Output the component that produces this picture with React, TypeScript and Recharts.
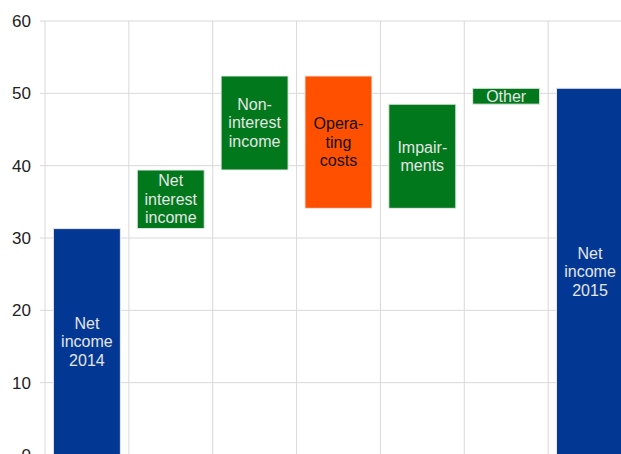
import { BarChart, Bar, XAxis, YAxis, CartesianGrid, Cell, LabelList } from "recharts";

const categories = [
  "Net\nincome\n2014",
  "Net\ninterest\nincome",
  "Non-\ninterest\nincome",
  "Opera-\nting\ncosts",
  "Impair-\nments",
  "Other",
  "Net\nincome\n2015",
];
const lows = [0, 31.3, 39.4, 34.1, 34.1, 48.5, 0];
const highs = [31.3, 39.4, 52.4, 52.4, 48.5, 50.7, 50.7];
const kinds = ["total", "up", "up", "down", "up", "up", "total"];
const yTicks = [0, 10, 20, 30, 40, 50, 60];

const COLORS: { [k: string]: string } = {
  total: "#023894",
  up: "#00781b",
  down: "#ff5000",
};
const TEXT_COLORS: { [k: string]: string } = {
  total: "#e6e6e6",
  up: "#e6e6e6",
  down: "#111111",
};

const data = categories.map((label, i) => ({
  name: String(i),
  label,
  kind: kinds[i],
  range: [lows[i], highs[i]],
}));

const FONT = "'Liberation Sans', Arial, sans-serif";

const renderLabel = (props: any) => {
  const { x, y, width, height, index, value } = props;
  const lines = String(value).split("\n");
  const cx = Number(x) + Number(width) / 2;
  const top = Math.min(Number(y), Number(y) + Number(height));
  const cy = top + Math.abs(Number(height)) / 2;
  const lh = 18.5;
  const fill = TEXT_COLORS[data[index].kind];
  return (
    <g>
      {lines.map((line, i) => (
        <text
          key={i}
          x={cx}
          y={cy + (i - (lines.length - 1) / 2) * lh}
          textAnchor="middle"
          dominantBaseline="central"
          fontSize={16}
          fontFamily={FONT}
          fill={fill}
        >
          {line}
        </text>
      ))}
    </g>
  );
};

export default function App() {
  return (
    <div
      style={{
        position: "fixed",
        left: 0,
        top: 0,
        width: 621,
        height: 454,
        overflow: "hidden",
        background: "#fff",
      }}
    >
      <BarChart
        width={632}
        height={475}
        data={data}
        margin={{ top: 21, right: 0, bottom: 20, left: 0 }}
        barCategoryGap="10%"
      >
        <CartesianGrid
          stroke="#d9d9d9"
          verticalCoordinatesGenerator={({ offset }: any) =>
            categories.map((_, i) => offset.left + (i * offset.width) / categories.length)
          }
        />
        <XAxis dataKey="name" hide />
        <YAxis
          width={45}
          domain={[0, 60]}
          ticks={yTicks}
          interval={0}
          axisLine={false}
          tickSize={5}
          tickMargin={9}
          tickLine={{ stroke: "#d9d9d9" }}
          tick={{ fontSize: 17, fill: "#222", fontFamily: FONT }}
        />
        <Bar dataKey="range" isAnimationActive={false} stroke="#e8e8e8" strokeWidth={1}>
          {data.map((d, i) => (
            <Cell key={i} fill={COLORS[d.kind]} />
          ))}
          <LabelList dataKey="label" content={renderLabel} />
        </Bar>
      </BarChart>
    </div>
  );
}
